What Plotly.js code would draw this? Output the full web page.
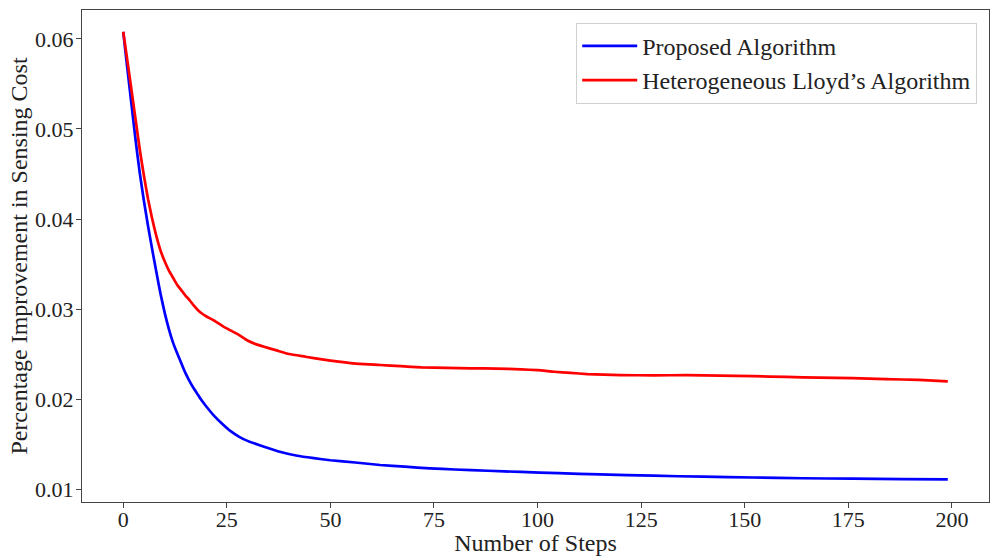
<!DOCTYPE html>
<html>
<head>
<meta charset="utf-8">
<script src="https://cdn.plot.ly/plotly-3.0.1.min.js"></script>
<style>html,body{margin:0;padding:0;background:#fff;}#chart{width:990px;height:556px;}</style>
</head>
<body>
<div id="chart"></div>
<script>
// Proposed Algorithm (blue)
const proposedSteps = [0,1,2,3,4,5,6,7,8,9,10,11,12,13,14,15,16,17,18,19,20,22,24,26,28,30,34,38,42,46,50,56,62,68,74,80,88,96,105,115,128,140,152,164,176,188,199];
const proposedValues = [0.0608,0.0567,0.0527,0.0487,0.0451,0.0420,0.0392,0.0366,0.0341,0.0317,0.0296,0.0278,0.0263,0.0251,0.0240,0.0229,0.0220,0.0212,0.0205,0.0198,0.0192,0.0181,0.0172,0.0164,0.0158,0.01535,0.0147,0.01412,0.0137,0.01343,0.0132,0.01295,0.01267,0.01248,0.0123,0.01217,0.01203,0.0119,0.01176,0.01163,0.01148,0.01137,0.01128,0.0112,0.01115,0.01111,0.01108];

// Heterogeneous Lloyd's Algorithm (red)
const lloydSteps = [0,1,2,3,4,5,6,7,8,9,10,11,12,13,14,15,16,17,18,19,20,22,24,26,28,30,32,34,37,40,44,48,52,57,62,67,72,78,84,90,96,100,104,108,112,116,120,128,136,144,152,160,168,176,184,192,199];
const lloydValues = [0.0608,0.0576,0.0543,0.0510,0.0477,0.0448,0.0422,0.0400,0.0381,0.0365,0.0353,0.0343,0.0335,0.0327,0.0321,0.0315,0.0310,0.0304,0.0299,0.0295,0.0292,0.0287,0.0281,0.0276,0.0271,0.0265,0.0261,0.0258,0.0254,0.0250,0.0247,0.0244,0.02415,0.0239,0.02378,0.02365,0.02352,0.02345,0.02341,0.02338,0.0233,0.0232,0.02303,0.0229,0.02277,0.0227,0.02266,0.02263,0.02265,0.0226,0.02254,0.02245,0.02238,0.02232,0.02222,0.02212,0.02197];

const xTicks = [0,25,50,75,100,125,150,175,200];
const yTicks = [0.01,0.02,0.03,0.04,0.05,0.06];
const seriesNames = ["Proposed Algorithm", "Heterogeneous Lloyd\u2019s Algorithm"];

const FONT = "Liberation Serif, Times New Roman, serif";

const traces = [
  {x: proposedSteps, y: proposedValues, name: seriesNames[0], type: 'scatter', mode: 'lines',
   line: {color: '#0000ff', width: 2.7, shape: 'spline', smoothing: 0.5}},
  {x: lloydSteps, y: lloydValues, name: seriesNames[1], type: 'scatter', mode: 'lines',
   line: {color: '#ff0000', width: 2.7, shape: 'spline', smoothing: 0.5}}
];

const layout = {
  width: 990, height: 556,
  margin: {l: 82, r: 1, t: 10, b: 54},
  paper_bgcolor: '#ffffff', plot_bgcolor: '#ffffff',
  font: {family: FONT, size: 22, color: '#222'},
  showlegend: true,
  legend: {x: 0.987, y: 0.974, xanchor: 'right', yanchor: 'top', itemwidth: 55,
    bgcolor: 'rgba(255,255,255,0.9)', bordercolor: '#d0d0d0', borderwidth: 1,
    font: {family: FONT, size: 24, color: '#222'}},
  xaxis: {
    range: [-9.95, 208.95], tickvals: xTicks, ticktext: xTicks.map(String),
    showgrid: false, zeroline: false, showline: true, mirror: true,
    linecolor: '#444', linewidth: 1, ticks: 'outside', ticklen: 5, tickwidth: 1, tickcolor: '#444',
    ticklabelstandoff: -7,
    tickfont: {family: FONT, size: 22, color: '#222'},
    title: {text: 'Number of Steps', font: {family: FONT, size: 24, color: '#222'}, standoff: 3},
    automargin: false
  },
  yaxis: {
    range: [0.00856, 0.06322], tickvals: yTicks, ticktext: yTicks.map(v => v.toFixed(2)),
    showgrid: false, zeroline: false, showline: true, mirror: true,
    linecolor: '#444', linewidth: 1, ticks: 'outside', ticklen: 5, tickwidth: 1, tickcolor: '#444',
    ticklabelstandoff: -2,
    tickfont: {family: FONT, size: 22, color: '#222'},
    title: {text: 'Percentage Improvement in Sensing Cost', font: {family: FONT, size: 24, color: '#222'}, standoff: 0},
    automargin: false
  }
};

Plotly.newPlot('chart', traces, layout, {displayModeBar: false, staticPlot: true});
</script>
</body>
</html>
